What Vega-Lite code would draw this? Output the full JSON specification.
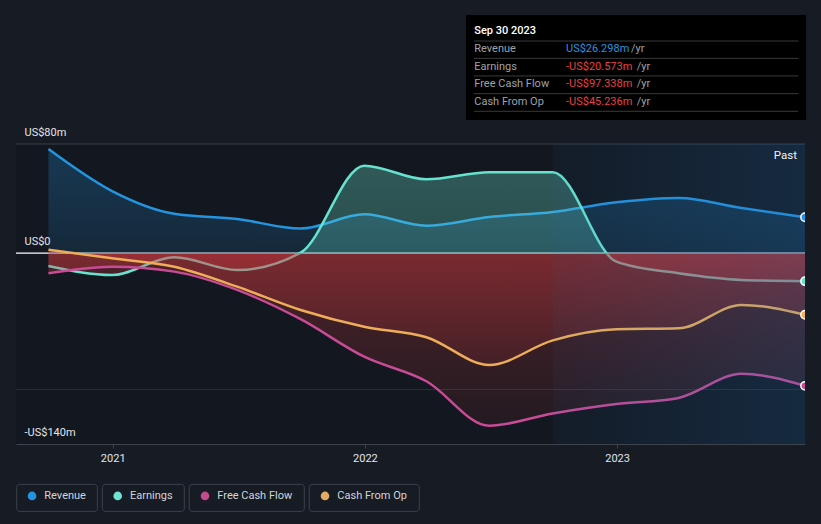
{
 "$schema": "https://vega.github.io/schema/vega-lite/v6.json",
 "width": 789,
 "height": 300,
 "autosize": {"type": "none"},
 "padding": {"left": 16, "top": 144, "right": 16, "bottom": 80},
 "background": "#161b24",
 "config": {"view": {"fill": "#13171f", "stroke": null}, "font": "Roboto", "text": {"font": "Roboto"}},
 "datasets": {
  "fin": [
   {"date": "2020-09-30", "series": "Revenue", "value": 76.3},
   {"date": "2020-12-31", "series": "Revenue", "value": 45.5},
   {"date": "2021-03-31", "series": "Revenue", "value": 28.8},
   {"date": "2021-06-30", "series": "Revenue", "value": 25.0},
   {"date": "2021-09-30", "series": "Revenue", "value": 18.0},
   {"date": "2021-12-31", "series": "Revenue", "value": 28.4},
   {"date": "2022-03-31", "series": "Revenue", "value": 20.1},
   {"date": "2022-06-30", "series": "Revenue", "value": 26.5},
   {"date": "2022-09-30", "series": "Revenue", "value": 30.2},
   {"date": "2022-12-31", "series": "Revenue", "value": 37.2},
   {"date": "2023-03-31", "series": "Revenue", "value": 40.4},
   {"date": "2023-06-30", "series": "Revenue", "value": 33.0},
   {"date": "2023-09-30", "series": "Revenue", "value": 26.298},
   {"date": "2020-09-30", "series": "Earnings", "value": -9.5},
   {"date": "2020-12-31", "series": "Earnings", "value": -16.1},
   {"date": "2021-03-31", "series": "Earnings", "value": -3.1},
   {"date": "2021-06-30", "series": "Earnings", "value": -12.4},
   {"date": "2021-09-30", "series": "Earnings", "value": 0.3},
   {"date": "2021-12-31", "series": "Earnings", "value": 64.1},
   {"date": "2022-03-31", "series": "Earnings", "value": 54.1},
   {"date": "2022-06-30", "series": "Earnings", "value": 59.3},
   {"date": "2022-09-30", "series": "Earnings", "value": 59.3},
   {"date": "2022-12-31", "series": "Earnings", "value": -6.3},
   {"date": "2023-03-31", "series": "Earnings", "value": -14.8},
   {"date": "2023-06-30", "series": "Earnings", "value": -19.7},
   {"date": "2023-09-30", "series": "Earnings", "value": -20.573},
   {"date": "2020-09-30", "series": "Free Cash Flow", "value": -14.8},
   {"date": "2020-12-31", "series": "Free Cash Flow", "value": -10.0},
   {"date": "2021-03-31", "series": "Free Cash Flow", "value": -13.6},
   {"date": "2021-06-30", "series": "Free Cash Flow", "value": -27.0},
   {"date": "2021-09-30", "series": "Free Cash Flow", "value": -48.5},
   {"date": "2021-12-31", "series": "Free Cash Flow", "value": -76.0},
   {"date": "2022-03-31", "series": "Free Cash Flow", "value": -94.0},
   {"date": "2022-06-30", "series": "Free Cash Flow", "value": -126.6},
   {"date": "2022-09-30", "series": "Free Cash Flow", "value": -117.6},
   {"date": "2022-12-31", "series": "Free Cash Flow", "value": -110.7},
   {"date": "2023-03-31", "series": "Free Cash Flow", "value": -106.2},
   {"date": "2023-06-30", "series": "Free Cash Flow", "value": -88.5},
   {"date": "2023-09-30", "series": "Free Cash Flow", "value": -97.338},
   {"date": "2020-09-30", "series": "Cash From Op", "value": 2.5},
   {"date": "2020-12-31", "series": "Cash From Op", "value": -3.8},
   {"date": "2021-03-31", "series": "Cash From Op", "value": -10.0},
   {"date": "2021-06-30", "series": "Cash From Op", "value": -24.6},
   {"date": "2021-09-30", "series": "Cash From Op", "value": -41.7},
   {"date": "2021-12-31", "series": "Cash From Op", "value": -54.0},
   {"date": "2022-03-31", "series": "Cash From Op", "value": -61.7},
   {"date": "2022-06-30", "series": "Cash From Op", "value": -82.0},
   {"date": "2022-09-30", "series": "Cash From Op", "value": -64.0},
   {"date": "2022-12-31", "series": "Cash From Op", "value": -55.9},
   {"date": "2023-03-31", "series": "Cash From Op", "value": -55.2},
   {"date": "2023-06-30", "series": "Cash From Op", "value": -38.0},
   {"date": "2023-09-30", "series": "Cash From Op", "value": -45.236}
  ]
 },
 "layer": [
  {"data": {"values": [{}]}, "mark": {"type": "rule", "color": "#3a3f48", "strokeWidth": 1},
   "encoding": {"y": {"datum": 80, "type": "quantitative", "scale": {"domain": [-140, 80], "nice": false, "zero": false},
     "axis": {"values": [80, 0, -140], "labelExpr": "datum.value == 0 ? 'US$0' : (datum.value < 0 ? '-US$' + abs(datum.value) + 'm' : 'US$' + datum.value + 'm')", "title": null, "grid": false, "domain": false, "ticks": false, "tickSize": 0, "labelAlign": "left", "labelBaseline": "middle", "labelPadding": -8, "labelOffset": -12, "labelColor": "#e3e5e8", "labelFontSize": 11, "labelFlush": false, "labelOverlap": false, "labelBound": false, "zindex": 1}}}},
  {"data": {"values": [{}]}, "mark": {"type": "rule", "color": "#2a2f37", "strokeWidth": 1},
   "encoding": {"y": {"datum": -100, "type": "quantitative"}}},
  {"data": {"values": [{}]}, "mark": {"type": "rule", "color": "#ffffff", "strokeWidth": 1.2},
   "encoding": {"y": {"datum": 0, "type": "quantitative"}}},

  {"data": {"name": "fin"}, "transform": [{"filter": "datum.series == 'Revenue'"}],
   "mark": {"type": "area", "interpolate": "monotone", "fill": {"gradient": "linear", "x1": 0, "y1": 0, "x2": 0, "y2": 1, "stops": [{"offset": 0, "color": "rgba(35,148,223,0.27)"}, {"offset": 1, "color": "rgba(35,148,223,0.14)"}]}},
   "encoding": {
    "x": {"field": "date", "type": "temporal", "scale": {"type": "utc", "domain": [{"year": 2020, "month": 8, "date": 14, "utc": true}, {"year": 2023, "month": 9, "date": 30, "utc": true}]},
     "axis": {"values": [{"year": 2021, "month": 1, "date": 1, "utc": true}, {"year": 2022, "month": 1, "date": 1, "utc": true}, {"year": 2023, "month": 1, "date": 1, "utc": true}], "labelExpr": "utcFormat(datum.value, '%Y')", "title": null, "grid": false, "domainColor": "#3e434c", "tickColor": "#3e434c", "tickSize": 4, "labelColor": "#e3e5e8", "labelFontSize": 11, "labelPadding": 4}},
    "y": {"field": "value", "type": "quantitative"},
    "y2": {"datum": 0}}},
  {"data": {"name": "fin"}, "transform": [{"filter": "datum.series == 'Revenue'"}],
   "mark": {"type": "line", "interpolate": "monotone", "color": "#2394df", "strokeWidth": 2.5},
   "encoding": {"x": {"field": "date", "type": "temporal"}, "y": {"field": "value", "type": "quantitative"}}},

  {"data": {"name": "fin"}, "transform": [{"filter": "datum.series == 'Earnings'"}],
   "mark": {"type": "area", "interpolate": "monotone", "fill": {"gradient": "linear", "x1": 0, "y1": 0, "x2": 0, "y2": 1, "stops": [{"offset": 0, "color": "rgba(108,229,209,0.32)"}, {"offset": 0.757, "color": "rgba(108,229,209,0.26)"}, {"offset": 0.758, "color": "rgba(220,60,64,0.3)"}, {"offset": 1, "color": "rgba(220,60,64,0.22)"}]}},
   "encoding": {"x": {"field": "date", "type": "temporal"}, "y": {"field": "value", "type": "quantitative"}, "y2": {"datum": 0}}},
  {"data": {"name": "fin"}, "transform": [{"filter": "datum.series == 'Earnings'"}],
   "mark": {"type": "line", "interpolate": "monotone", "color": "#66e3cf", "strokeWidth": 2.5},
   "encoding": {"x": {"field": "date", "type": "temporal"}, "y": {"field": "value", "type": "quantitative"}}},

  {"data": {"name": "fin"}, "transform": [{"filter": "datum.series == 'Free Cash Flow'"}],
   "mark": {"type": "area", "interpolate": "monotone", "fill": {"gradient": "linear", "x1": 0, "y1": 0, "x2": 0, "y2": 1, "stops": [{"offset": 0, "color": "rgba(220,60,64,0.3)"}, {"offset": 1, "color": "rgba(220,60,64,0.08)"}]}},
   "encoding": {"x": {"field": "date", "type": "temporal"}, "y": {"field": "value", "type": "quantitative"}, "y2": {"datum": 0}}},
  {"data": {"name": "fin"}, "transform": [{"filter": "datum.series == 'Free Cash Flow'"}],
   "mark": {"type": "line", "interpolate": "monotone", "color": "#c84b96", "strokeWidth": 2.5},
   "encoding": {"x": {"field": "date", "type": "temporal"}, "y": {"field": "value", "type": "quantitative"}}},

  {"data": {"name": "fin"}, "transform": [{"filter": "datum.series == 'Cash From Op'"}],
   "mark": {"type": "area", "interpolate": "monotone", "fill": {"gradient": "linear", "x1": 0, "y1": 0, "x2": 0, "y2": 1, "stops": [{"offset": 0, "color": "rgba(220,60,64,0.3)"}, {"offset": 1, "color": "rgba(220,60,64,0.1)"}]}},
   "encoding": {"x": {"field": "date", "type": "temporal"}, "y": {"field": "value", "type": "quantitative"}, "y2": {"datum": 0}}},
  {"data": {"name": "fin"}, "transform": [{"filter": "datum.series == 'Cash From Op'"}],
   "mark": {"type": "line", "interpolate": "monotone", "color": "#eeae59", "strokeWidth": 2.5},
   "encoding": {"x": {"field": "date", "type": "temporal"}, "y": {"field": "value", "type": "quantitative"}}},

  {"data": {"values": [{}]},
   "mark": {"type": "rect", "fill": {"gradient": "linear", "x1": 0, "y1": 0, "x2": 1, "y2": 0, "stops": [{"offset": 0, "color": "rgba(30,110,180,0.06)"}, {"offset": 1, "color": "rgba(30,110,180,0.22)"}]}},
   "encoding": {"x": {"datum": {"year": 2022, "month": 9, "date": 30, "utc": true}, "type": "temporal"}, "x2": {"datum": {"year": 2023, "month": 9, "date": 30, "utc": true}}, "y": {"datum": 80, "type": "quantitative"}, "y2": {"datum": -140}}},

  {"data": {"name": "fin"}, "transform": [{"filter": {"field": "date", "equal": {"year": 2023, "month": 9, "date": 30, "utc": true}}}],
   "mark": {"type": "point", "filled": true, "size": 70, "stroke": "#ffffff", "strokeWidth": 1.5, "opacity": 1, "clip": true},
   "encoding": {"x": {"field": "date", "type": "temporal"}, "y": {"field": "value", "type": "quantitative"},
    "color": {"field": "series", "type": "nominal", "scale": {"domain": ["Revenue", "Earnings", "Free Cash Flow", "Cash From Op"], "range": ["#2394df", "#66e3cf", "#c84b96", "#eeae59"]}, "legend": null}}},

  {"data": {"values": [{}]}, "mark": {"type": "text", "align": "right", "baseline": "middle", "fontSize": 11.5, "color": "#f0f2f4", "text": "Past"},
   "encoding": {"x": {"datum": {"year": 2023, "month": 9, "date": 18, "hours": 10, "utc": true}, "type": "temporal"}, "y": {"datum": 71.2, "type": "quantitative"}}},

  {"data": {"values": [{}]}, "mark": {"type": "rect", "fill": "#000000"},
   "encoding": {"x": {"datum": {"year": 2022, "month": 5, "date": 27, "hours": 7, "utc": true}, "type": "temporal"}, "x2": {"datum": {"year": 2023, "month": 10, "date": 1, "hours": 12, "utc": true}}, "y": {"datum": 174.6, "type": "quantitative"}, "y2": {"datum": 97.6}}},
  {"data": {"values": [{}]}, "mark": {"type": "rule", "color": "#3a3b3e", "strokeWidth": 1},
   "encoding": {"x": {"datum": {"year": 2022, "month": 6, "date": 7, "hours": 22, "utc": true}, "type": "temporal"}, "x2": {"datum": {"year": 2023, "month": 9, "date": 20, "hours": 7, "utc": true}}, "y": {"datum": 155.5, "type": "quantitative"}}},
  {"data": {"values": [{}]}, "mark": {"type": "rule", "color": "#3a3b3e", "strokeWidth": 1},
   "encoding": {"x": {"datum": {"year": 2022, "month": 6, "date": 7, "hours": 22, "utc": true}, "type": "temporal"}, "x2": {"datum": {"year": 2023, "month": 9, "date": 20, "hours": 7, "utc": true}}, "y": {"datum": 142.8, "type": "quantitative"}}},
  {"data": {"values": [{}]}, "mark": {"type": "rule", "color": "#3a3b3e", "strokeWidth": 1},
   "encoding": {"x": {"datum": {"year": 2022, "month": 6, "date": 7, "hours": 22, "utc": true}, "type": "temporal"}, "x2": {"datum": {"year": 2023, "month": 9, "date": 20, "hours": 7, "utc": true}}, "y": {"datum": 129.9, "type": "quantitative"}}},
  {"data": {"values": [{}]}, "mark": {"type": "rule", "color": "#3a3b3e", "strokeWidth": 1},
   "encoding": {"x": {"datum": {"year": 2022, "month": 6, "date": 7, "hours": 22, "utc": true}, "type": "temporal"}, "x2": {"datum": {"year": 2023, "month": 9, "date": 20, "hours": 7, "utc": true}}, "y": {"datum": 116.9, "type": "quantitative"}}},
  {"data": {"values": [{}]}, "mark": {"type": "rule", "color": "#3a3b3e", "strokeWidth": 1},
   "encoding": {"x": {"datum": {"year": 2022, "month": 6, "date": 7, "hours": 22, "utc": true}, "type": "temporal"}, "x2": {"datum": {"year": 2023, "month": 9, "date": 20, "hours": 7, "utc": true}}, "y": {"datum": 104.0, "type": "quantitative"}}},
  {"data": {"values": [{}]}, "mark": {"type": "text", "align": "left", "baseline": "middle", "fontSize": 11, "fontWeight": 500, "color": "#ffffff", "text": "Sep 30 2023"},
   "encoding": {"x": {"datum": {"year": 2022, "month": 6, "date": 8, "hours": 8, "utc": true}, "type": "temporal"}, "y": {"datum": 163.1, "type": "quantitative"}}},
  {"data": {"values": [{}]}, "mark": {"type": "text", "align": "left", "baseline": "middle", "fontSize": 11, "color": "#9ea3aa", "text": "Revenue"},
   "encoding": {"x": {"datum": {"year": 2022, "month": 6, "date": 8, "hours": 8, "utc": true}, "type": "temporal"}, "y": {"datum": 149.4, "type": "quantitative"}}},
  {"data": {"values": [{}]}, "mark": {"type": "text", "align": "left", "baseline": "middle", "fontSize": 11, "color": "#9ea3aa", "text": "Earnings"},
   "encoding": {"x": {"datum": {"year": 2022, "month": 6, "date": 8, "hours": 8, "utc": true}, "type": "temporal"}, "y": {"datum": 136.7, "type": "quantitative"}}},
  {"data": {"values": [{}]}, "mark": {"type": "text", "align": "left", "baseline": "middle", "fontSize": 11, "color": "#9ea3aa", "text": "Free Cash Flow"},
   "encoding": {"x": {"datum": {"year": 2022, "month": 6, "date": 8, "hours": 8, "utc": true}, "type": "temporal"}, "y": {"datum": 123.8, "type": "quantitative"}}},
  {"data": {"values": [{}]}, "mark": {"type": "text", "align": "left", "baseline": "middle", "fontSize": 11, "color": "#9ea3aa", "text": "Cash From Op"},
   "encoding": {"x": {"datum": {"year": 2022, "month": 6, "date": 8, "hours": 8, "utc": true}, "type": "temporal"}, "y": {"datum": 111.0, "type": "quantitative"}}},
  {"data": {"values": [{}]}, "mark": {"type": "text", "align": "left", "baseline": "middle", "fontSize": 11, "color": "#2394df", "text": "US$26.298m"},
   "encoding": {"x": {"datum": {"year": 2022, "month": 10, "date": 19, "hours": 2, "utc": true}, "type": "temporal"}, "y": {"datum": 149.4, "type": "quantitative"}}},
  {"data": {"values": [{}]}, "mark": {"type": "text", "align": "left", "baseline": "middle", "fontSize": 11, "color": "#e8413f", "text": "-US$20.573m"},
   "encoding": {"x": {"datum": {"year": 2022, "month": 10, "date": 19, "hours": 2, "utc": true}, "type": "temporal"}, "y": {"datum": 136.7, "type": "quantitative"}}},
  {"data": {"values": [{}]}, "mark": {"type": "text", "align": "left", "baseline": "middle", "fontSize": 11, "color": "#e8413f", "text": "-US$97.338m"},
   "encoding": {"x": {"datum": {"year": 2022, "month": 10, "date": 19, "hours": 2, "utc": true}, "type": "temporal"}, "y": {"datum": 123.8, "type": "quantitative"}}},
  {"data": {"values": [{}]}, "mark": {"type": "text", "align": "left", "baseline": "middle", "fontSize": 11, "color": "#e8413f", "text": "-US$45.236m"},
   "encoding": {"x": {"datum": {"year": 2022, "month": 10, "date": 19, "hours": 2, "utc": true}, "type": "temporal"}, "y": {"datum": 111.0, "type": "quantitative"}}},
  {"data": {"values": [{}]}, "mark": {"type": "text", "align": "left", "baseline": "middle", "fontSize": 11, "color": "#9ea3aa", "text": "/yr"},
   "encoding": {"x": {"datum": {"year": 2023, "month": 1, "date": 21, "hours": 5, "utc": true}, "type": "temporal"}, "y": {"datum": 149.4, "type": "quantitative"}}},
  {"data": {"values": [{}]}, "mark": {"type": "text", "align": "left", "baseline": "middle", "fontSize": 11, "color": "#9ea3aa", "text": "/yr"},
   "encoding": {"x": {"datum": {"year": 2023, "month": 1, "date": 29, "hours": 10, "utc": true}, "type": "temporal"}, "y": {"datum": 136.7, "type": "quantitative"}}},
  {"data": {"values": [{}]}, "mark": {"type": "text", "align": "left", "baseline": "middle", "fontSize": 11, "color": "#9ea3aa", "text": "/yr"},
   "encoding": {"x": {"datum": {"year": 2023, "month": 1, "date": 29, "hours": 10, "utc": true}, "type": "temporal"}, "y": {"datum": 123.8, "type": "quantitative"}}},
  {"data": {"values": [{}]}, "mark": {"type": "text", "align": "left", "baseline": "middle", "fontSize": 11, "color": "#9ea3aa", "text": "/yr"},
   "encoding": {"x": {"datum": {"year": 2023, "month": 1, "date": 29, "hours": 10, "utc": true}, "type": "temporal"}, "y": {"datum": 111.0, "type": "quantitative"}}},

  {"data": {"values": [{}]}, "mark": {"type": "rect", "fill": "#161b24", "stroke": "#3d424b", "strokeWidth": 1, "cornerRadius": 3},
   "encoding": {"x": {"datum": {"year": 2020, "month": 8, "date": 15, "utc": true}, "type": "temporal"}, "x2": {"datum": {"year": 2020, "month": 12, "date": 9, "hours": 17, "utc": true}}, "y": {"datum": -169.6, "type": "quantitative"}, "y2": {"datum": -189.4}}},
  {"data": {"values": [{}]}, "mark": {"type": "rect", "fill": "#161b24", "stroke": "#3d424b", "strokeWidth": 1, "cornerRadius": 3},
   "encoding": {"x": {"datum": {"year": 2020, "month": 12, "date": 16, "hours": 22, "utc": true}, "type": "temporal"}, "x2": {"datum": {"year": 2021, "month": 4, "date": 14, "hours": 14, "utc": true}}, "y": {"datum": -169.6, "type": "quantitative"}, "y2": {"datum": -189.4}}},
  {"data": {"values": [{}]}, "mark": {"type": "rect", "fill": "#161b24", "stroke": "#3d424b", "strokeWidth": 1, "cornerRadius": 3},
   "encoding": {"x": {"datum": {"year": 2021, "month": 4, "date": 21, "hours": 19, "utc": true}, "type": "temporal"}, "x2": {"datum": {"year": 2021, "month": 10, "date": 5, "hours": 7, "utc": true}}, "y": {"datum": -169.6, "type": "quantitative"}, "y2": {"datum": -189.4}}},
  {"data": {"values": [{}]}, "mark": {"type": "rect", "fill": "#161b24", "stroke": "#3d424b", "strokeWidth": 1, "cornerRadius": 3},
   "encoding": {"x": {"datum": {"year": 2021, "month": 10, "date": 12, "hours": 12, "utc": true}, "type": "temporal"}, "x2": {"datum": {"year": 2022, "month": 3, "date": 20, "hours": 17, "utc": true}}, "y": {"datum": -169.6, "type": "quantitative"}, "y2": {"datum": -189.4}}},
  {"data": {"values": [{}]}, "mark": {"type": "point", "filled": true, "size": 75, "color": "#2394df", "opacity": 1},
   "encoding": {"x": {"datum": {"year": 2020, "month": 9, "date": 6, "hours": 5, "utc": true}, "type": "temporal"}, "y": {"datum": -178.1, "type": "quantitative"}}},
  {"data": {"values": [{}]}, "mark": {"type": "point", "filled": true, "size": 75, "color": "#6ee3d2", "opacity": 1},
   "encoding": {"x": {"datum": {"year": 2021, "month": 1, "date": 8, "hours": 5, "utc": true}, "type": "temporal"}, "y": {"datum": -178.1, "type": "quantitative"}}},
  {"data": {"values": [{}]}, "mark": {"type": "point", "filled": true, "size": 75, "color": "#c24b8b", "opacity": 1},
   "encoding": {"x": {"datum": {"year": 2021, "month": 5, "date": 14, "hours": 14, "utc": true}, "type": "temporal"}, "y": {"datum": -178.1, "type": "quantitative"}}},
  {"data": {"values": [{}]}, "mark": {"type": "point", "filled": true, "size": 75, "color": "#e3ac62", "opacity": 1},
   "encoding": {"x": {"datum": {"year": 2021, "month": 11, "date": 4, "hours": 6, "utc": true}, "type": "temporal"}, "y": {"datum": -178.1, "type": "quantitative"}}},
  {"data": {"values": [{}]}, "mark": {"type": "text", "align": "left", "baseline": "middle", "fontSize": 11, "color": "#d2d5da", "text": "Revenue"},
   "encoding": {"x": {"datum": {"year": 2020, "month": 9, "date": 24, "utc": true}, "type": "temporal"}, "y": {"datum": -178.1, "type": "quantitative"}}},
  {"data": {"values": [{}]}, "mark": {"type": "text", "align": "left", "baseline": "middle", "fontSize": 11, "color": "#d2d5da", "text": "Earnings"},
   "encoding": {"x": {"datum": {"year": 2021, "month": 1, "date": 26, "utc": true}, "type": "temporal"}, "y": {"datum": -178.1, "type": "quantitative"}}},
  {"data": {"values": [{}]}, "mark": {"type": "text", "align": "left", "baseline": "middle", "fontSize": 11, "color": "#d2d5da", "text": "Free Cash Flow"},
   "encoding": {"x": {"datum": {"year": 2021, "month": 6, "date": 1, "hours": 10, "utc": true}, "type": "temporal"}, "y": {"datum": -178.1, "type": "quantitative"}}},
  {"data": {"values": [{}]}, "mark": {"type": "text", "align": "left", "baseline": "middle", "fontSize": 11, "color": "#d2d5da", "text": "Cash From Op"},
   "encoding": {"x": {"datum": {"year": 2021, "month": 11, "date": 22, "hours": 2, "utc": true}, "type": "temporal"}, "y": {"datum": -178.1, "type": "quantitative"}}}
 ]
}
